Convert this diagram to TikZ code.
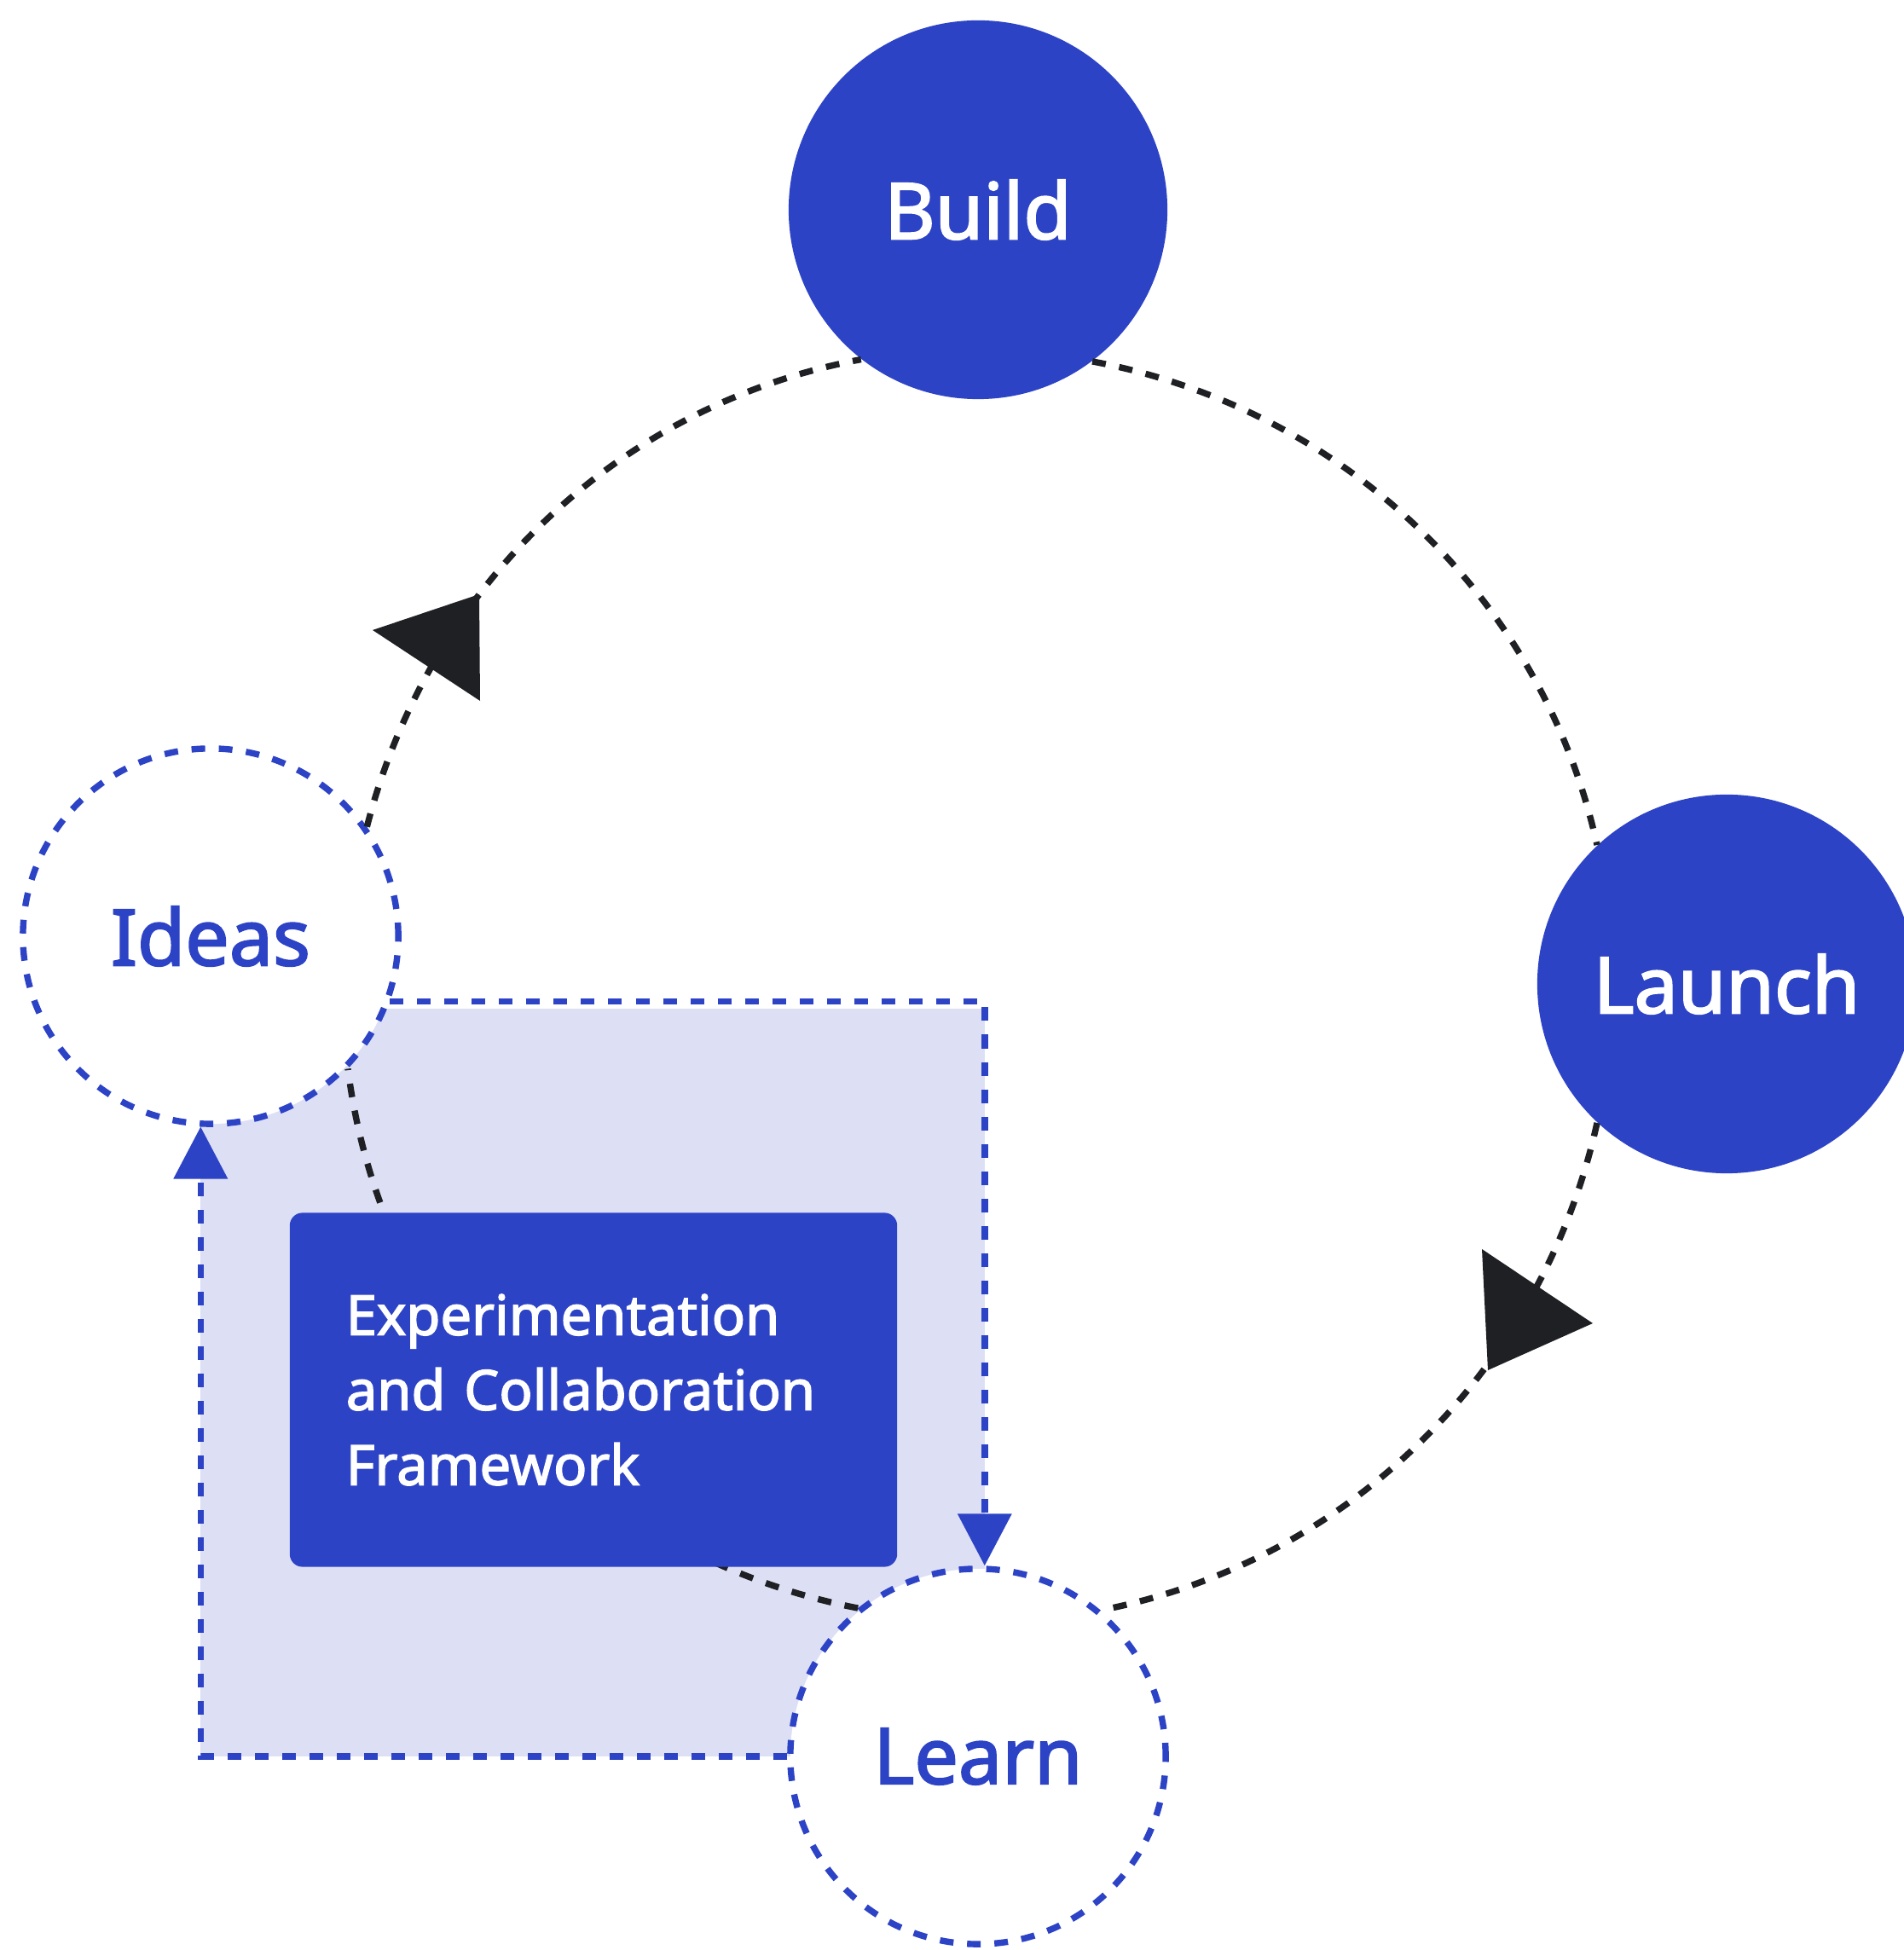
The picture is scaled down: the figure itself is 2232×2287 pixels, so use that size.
\documentclass[tikz,border=0pt]{standalone}
\usepackage{fontspec}
\newfontfamily\cyclefont{Noto Sans}[FakeBold=2.2]
\usepackage{xcolor}
\definecolor{CycleBlue}{HTML}{2D43C6}
\definecolor{PanelLilac}{HTML}{DDDFF5}
\definecolor{InkDark}{HTML}{1F2024}
\usepackage{tikz}
\usetikzlibrary{arrows.meta,backgrounds}

\begin{document}
\begin{tikzpicture}[x=0.01cm,y=0.01cm,
    stage/.style={circle,fill=CycleBlue,text=white,inner sep=0pt,
      minimum size=4.44cm,font=\cyclefont\fontsize{26}{30}\selectfont},
    openstage/.style={circle,draw=CycleBlue,fill=white,text=CycleBlue,
      line width=2.1pt,dash pattern=on 0.16cm off 0.16cm,inner sep=0pt,
      minimum size=4.4cm,font=\cyclefont\fontsize{26}{30}\selectfont},
    hub/.style={rectangle,rounded corners=0.15cm,fill=CycleBlue,text=white,
      minimum width=7.12cm,minimum height=4.15cm,inner xsep=0.66cm,
      text width=5.8cm,align=left,
      font=\cyclefont\fontsize{18.5}{25}\selectfont},
    cyclearc/.style={InkDark,line width=2.1pt,dash pattern=on 0.16cm off 0.16cm},
    feedback/.style={CycleBlue,line width=2.1pt,dash pattern=on 0.16cm off 0.16cm,
      -{Triangle[width=0.62cm,length=0.61cm]}},
    tipmark/.style={fill=InkDark}
  ]
    \useasboundingbox (0,0) rectangle (2232,2287);

    \node[openstage] (ideas)  at (247,1189)  {Ideas};
    \node[stage]     (build)  at (1147,2041) {Build};
    \node[stage]     (launch) at (2025,1133) {Launch};
    \node[openstage] (learn)  at (1147,227)  {Learn};

    \begin{scope}[on background layer]
      \fill[PanelLilac] ([yshift=-0.08cm]ideas.-93 |- ideas.-20.2)
        rectangle (learn.88 |- learn.west);
    \end{scope}

    \draw[cyclearc] (ideas.35.7)   to[out=75.6,in=190.6,looseness=0.93]  (build.232.1);
    \draw[cyclearc] (build.307.9)  to[out=-10.6,in=102.5,looseness=0.93] (launch.133.2);
    \draw[cyclearc] (launch.227.2) to[out=-102.5,in=11,looseness=0.93]   (learn.50.8);
    \draw[cyclearc] (learn.129.2)  to[out=169,in=277.2,looseness=0.94]   (ideas.316.9);

    \node[hub] (frame) at (696,657)
      {Experimentation\\and Collaboration\\Framework};

    \draw[feedback] (ideas.-20.2) -| (learn.88);
    \draw[feedback] (learn.west)  -| (ideas.-93);

    \fill[tipmark] (437,1548) -- (562,1590) -- (563,1465) -- cycle;
    \fill[tipmark] (1738,822) -- (1745,680) -- (1868,735) -- cycle;
  \end{tikzpicture}
\end{document}
